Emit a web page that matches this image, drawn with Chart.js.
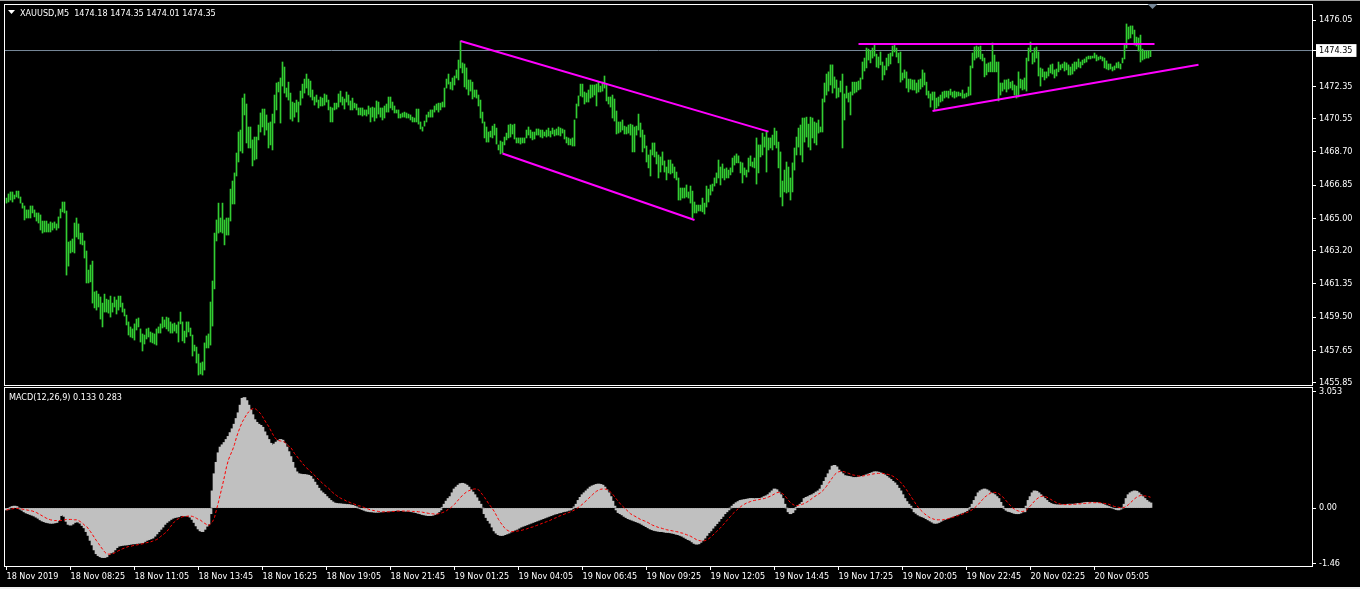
<!DOCTYPE html>
<html>
<head>
<meta charset="utf-8">
<title>XAUUSD,M5</title>
<script src="https://cdn.jsdelivr.net/npm/chart.js@4.4.1/dist/chart.umd.min.js"></script>
<style>
  html, body { margin:0; padding:0; background:#000; }
  body { width:1360px; height:589px; position:relative; overflow:hidden; }
  canvas { position:absolute; left:0; top:0; }
  #edgeTop { position:absolute; left:0; top:0; width:1360px; height:1px; background:#a0a0a0; }
  #edgeBottom { position:absolute; left:0; top:587px; width:1360px; height:2px; background:#f0f0f0; }
</style>
</head>
<body>
<canvas id="priceChart" width="1360" height="589"></canvas>
<canvas id="macdChart" width="1360" height="589"></canvas>
<div id="edgeTop"></div>
<div id="edgeBottom"></div>
<script>
// bar highs / lows, M5, oldest first
const highs = [
1466.13,1466.36,1466.47,1466.47,1466.30,1466.52,1466.52,1466.19,1465.85,1465.69,
1465.47,1465.47,1465.69,1465.69,1465.47,1465.30,1465.30,1465.19,1464.85,1464.85,
1464.85,1464.69,1464.80,1464.74,1464.80,1464.69,1465.08,1465.52,1465.91,1465.91,
1465.41,1463.68,1463.74,1463.85,1464.74,1465.02,1464.69,1464.18,1464.18,1463.74,
1463.18,1462.12,1462.40,1462.62,1460.90,1460.95,1460.78,1460.62,1460.28,1460.78,
1460.50,1460.45,1460.67,1460.28,1460.62,1460.45,1460.67,1460.67,1460.28,1459.95,
1459.61,1459.23,1458.95,1458.84,1459.12,1459.39,1459.45,1458.84,1458.56,1458.50,
1458.84,1458.89,1458.67,1458.61,1458.56,1458.84,1458.95,1459.12,1459.50,1459.34,
1459.50,1459.45,1459.23,1459.12,1459.17,1459.06,1459.23,1459.78,1459.23,1458.72,
1459.23,1459.23,1458.89,1458.50,1457.94,1457.83,1457.44,1456.94,1457.00,1458.06,
1458.45,1458.56,1460.34,1461.51,1464.18,1464.91,1465.85,1465.02,1465.85,1464.91,
1465.02,1465.02,1466.63,1467.08,1467.53,1468.64,1469.81,1469.92,1471.70,1471.93,
1471.37,1470.09,1470.09,1469.37,1469.53,1469.53,1470.20,1470.87,1471.09,1471.09,
1470.76,1470.31,1470.37,1470.81,1471.87,1472.54,1472.59,1472.82,1473.71,1473.43,
1472.26,1472.59,1471.98,1471.48,1471.42,1471.59,1471.48,1472.09,1472.48,1472.76,
1473.04,1472.76,1472.65,1472.15,1471.76,1471.87,1471.59,1471.76,1471.70,1471.93,
1471.87,1471.59,1471.20,1471.15,1471.42,1471.42,1471.93,1472.09,1471.76,1471.65,
1472.04,1471.87,1471.54,1471.70,1471.42,1471.37,1471.15,1471.15,1471.15,1471.04,
1471.04,1471.26,1471.15,1471.20,1471.15,1471.54,1471.48,1471.15,1471.15,1471.26,
1471.37,1471.76,1471.76,1471.48,1471.26,1471.04,1471.04,1470.81,1470.87,1470.92,
1470.87,1470.81,1470.76,1470.64,1470.59,1471.09,1471.09,1470.37,1470.09,1470.42,
1470.76,1470.92,1471.04,1471.04,1471.26,1471.37,1471.42,1471.42,1471.48,1472.26,
1472.76,1473.04,1472.59,1472.82,1472.93,1473.27,1473.82,1474.88,1473.66,1473.60,
1473.38,1472.71,1472.71,1472.59,1472.15,1472.15,1471.87,1471.59,1470.92,1470.37,
1470.09,1469.81,1469.86,1470.14,1470.25,1470.03,1469.09,1469.31,1469.25,1469.53,
1469.75,1470.20,1470.25,1470.20,1470.25,1469.48,1469.48,1469.48,1469.48,1469.48,
1469.92,1470.09,1469.92,1469.81,1469.81,1469.98,1469.98,1469.92,1469.92,1469.81,
1469.92,1470.03,1469.86,1470.03,1469.92,1469.98,1470.09,1470.03,1469.98,1469.92,
1469.53,1469.48,1469.42,1469.48,1470.48,1471.37,1471.82,1472.48,1472.48,1472.04,
1471.98,1472.15,1472.43,1472.43,1472.43,1472.48,1472.59,1472.37,1472.59,1472.93,
1472.43,1471.76,1471.76,1471.87,1471.65,1470.98,1470.37,1470.37,1470.48,1470.14,
1470.09,1470.20,1470.25,1470.20,1470.09,1470.14,1470.81,1470.31,1469.92,1469.64,
1469.03,1468.53,1468.81,1469.20,1469.20,1468.70,1468.53,1468.42,1468.70,1468.20,
1467.86,1468.25,1468.25,1468.03,1467.86,1467.58,1467.25,1466.69,1466.69,1466.69,
1466.86,1466.47,1466.80,1466.52,1465.91,1465.74,1465.74,1465.74,1466.13,1465.85,
1466.80,1466.63,1466.86,1466.91,1467.25,1467.53,1468.25,1467.86,1468.03,1467.75,
1467.81,1467.69,1467.81,1468.36,1468.48,1468.59,1468.48,1468.14,1468.09,1467.81,
1467.69,1468.36,1468.48,1468.14,1468.36,1469.48,1469.09,1469.09,1469.75,1469.53,
1469.81,1469.48,1469.48,1469.64,1470.03,1469.86,1469.25,1468.70,1467.08,1467.69,
1468.14,1467.86,1467.25,1468.09,1468.92,1469.53,1470.03,1470.20,1470.59,1470.59,
1470.64,1470.25,1470.64,1470.59,1470.37,1470.31,1470.48,1470.09,1471.65,1472.54,
1473.04,1473.16,1473.55,1473.55,1472.88,1472.71,1472.26,1472.65,1473.04,1471.93,
1472.37,1471.98,1472.04,1472.59,1472.59,1472.59,1472.65,1472.82,1473.71,1473.93,
1474.49,1474.43,1474.32,1474.49,1474.71,1474.15,1473.99,1474.27,1473.71,1473.49,
1473.93,1474.15,1474.21,1474.60,1474.71,1474.49,1474.21,1474.27,1473.10,1473.27,
1473.16,1472.76,1472.76,1472.71,1472.71,1472.54,1472.71,1472.76,1473.27,1473.10,
1472.59,1472.09,1471.93,1472.04,1472.04,1471.70,1471.76,1471.87,1472.04,1472.09,
1472.09,1472.09,1472.20,1472.04,1472.09,1472.04,1472.04,1471.98,1472.15,1471.93,
1471.98,1472.32,1473.49,1474.21,1474.55,1474.60,1474.55,1474.60,1474.15,1473.93,
1473.60,1473.66,1473.71,1474.77,1474.10,1473.71,1473.71,1472.54,1472.54,1472.71,
1472.71,1472.76,1472.59,1472.65,1472.43,1472.37,1473.16,1472.76,1472.71,1472.82,
1473.93,1474.49,1474.82,1474.21,1474.49,1474.55,1474.27,1473.38,1473.32,1473.16,
1473.16,1473.38,1473.55,1473.60,1473.27,1473.32,1473.71,1473.55,1473.60,1473.71,
1473.66,1473.55,1473.43,1473.60,1473.71,1473.71,1473.88,1473.71,1473.82,1473.88,
1473.99,1474.04,1474.04,1474.04,1474.21,1474.10,1473.99,1474.04,1473.99,1473.93,
1473.77,1473.60,1473.60,1473.43,1473.49,1473.66,1473.71,1473.60,1473.93,1474.66,
1475.83,1475.66,1475.72,1475.72,1475.49,1475.10,1475.05,1475.21,1474.43,1474.32,
1474.32,1474.32,1474.35
];
const lows = [
1465.85,1465.91,1466.02,1465.91,1466.08,1466.19,1466.13,1465.85,1465.57,1464.91,
1465.02,1465.02,1465.02,1465.30,1465.08,1464.85,1464.74,1464.35,1464.18,1464.24,
1464.24,1464.24,1464.24,1464.35,1464.46,1464.35,1464.46,1465.02,1465.36,1465.30,
1461.84,1462.34,1463.07,1463.13,1463.07,1463.96,1463.85,1463.57,1463.52,1462.79,
1461.40,1461.40,1461.46,1460.28,1460.01,1459.89,1460.06,1459.39,1458.95,1459.78,
1459.78,1459.72,1459.50,1459.78,1460.06,1459.67,1459.89,1460.06,1459.78,1459.56,
1459.06,1458.50,1458.39,1458.34,1458.22,1458.78,1458.95,1458.11,1457.61,1458.00,
1458.28,1458.39,1458.11,1458.06,1458.00,1457.94,1458.61,1458.61,1458.89,1458.95,
1458.84,1458.72,1458.61,1458.61,1458.72,1458.61,1458.11,1459.12,1458.17,1458.06,
1458.39,1458.67,1458.45,1457.33,1457.61,1456.94,1456.27,1456.33,1456.27,1456.55,
1457.78,1457.78,1457.94,1459.00,1461.07,1463.74,1464.18,1464.24,1464.18,1463.52,
1464.07,1464.07,1464.85,1465.80,1465.80,1467.36,1468.14,1468.75,1468.64,1470.76,
1469.20,1468.92,1468.92,1467.92,1468.25,1468.31,1469.37,1469.81,1470.09,1469.64,
1469.92,1468.92,1469.09,1468.81,1470.31,1471.04,1472.04,1470.31,1472.37,1471.98,
1471.76,1471.59,1470.53,1470.42,1470.64,1470.92,1470.37,1471.31,1471.70,1471.98,
1472.26,1471.87,1471.76,1471.59,1471.31,1471.48,1471.15,1471.26,1471.26,1471.31,
1471.48,1471.04,1470.37,1470.37,1471.04,1471.09,1471.20,1471.48,1471.31,1471.09,
1471.48,1471.31,1471.04,1471.04,1471.15,1471.04,1470.76,1470.76,1470.70,1470.76,
1470.70,1470.81,1470.37,1470.64,1470.42,1470.59,1470.81,1470.64,1470.48,1470.59,
1470.92,1470.92,1471.15,1471.04,1470.87,1470.87,1470.59,1470.59,1470.64,1470.64,
1470.59,1470.59,1470.48,1470.37,1470.37,1470.37,1470.25,1469.98,1469.86,1470.14,
1470.37,1470.64,1470.64,1470.64,1470.92,1471.04,1470.92,1471.04,1471.20,1471.20,
1472.26,1472.48,1472.20,1472.15,1472.43,1472.82,1472.71,1473.38,1473.10,1472.32,
1472.20,1471.87,1472.09,1471.65,1471.76,1471.70,1471.26,1470.59,1470.31,1469.48,
1469.25,1469.25,1469.53,1469.48,1469.64,1469.14,1468.81,1468.59,1468.64,1469.09,
1469.37,1469.48,1469.53,1469.70,1469.42,1469.20,1469.20,1469.14,1469.20,1469.20,
1469.48,1469.64,1469.48,1469.37,1469.42,1469.64,1469.64,1469.53,1469.48,1469.59,
1469.53,1469.59,1469.53,1469.70,1469.59,1469.64,1469.64,1469.59,1469.75,1469.42,
1469.20,1469.09,1469.09,1469.03,1469.03,1470.59,1471.26,1471.82,1471.76,1471.37,
1471.48,1471.48,1471.70,1471.76,1471.87,1471.26,1472.04,1472.04,1472.09,1472.26,
1471.54,1471.37,1471.20,1470.59,1470.42,1469.70,1469.75,1469.81,1469.92,1469.70,
1469.70,1469.75,1469.64,1468.70,1468.70,1469.64,1469.92,1469.53,1468.70,1468.92,
1468.14,1467.81,1467.36,1468.53,1468.42,1468.03,1467.25,1467.58,1467.97,1467.58,
1467.14,1467.53,1467.47,1467.53,1467.25,1467.14,1466.02,1466.02,1466.13,1466.13,
1466.19,1466.13,1465.85,1465.02,1465.30,1465.30,1465.41,1465.41,1465.36,1465.24,
1465.63,1465.91,1466.30,1466.52,1466.80,1466.97,1467.25,1466.86,1467.25,1467.14,
1467.25,1467.25,1467.42,1467.58,1467.97,1468.09,1468.09,1467.53,1466.97,1467.42,
1467.30,1467.58,1467.92,1467.86,1467.81,1466.91,1467.53,1468.42,1468.53,1468.97,
1467.58,1468.81,1468.92,1468.81,1469.09,1468.92,1467.81,1466.19,1465.69,1466.47,
1466.41,1466.47,1466.02,1466.47,1467.69,1468.53,1468.97,1468.53,1468.14,1469.25,
1469.53,1468.97,1468.81,1469.48,1469.20,1469.09,1469.75,1469.81,1469.81,1471.48,
1471.87,1472.09,1472.43,1471.98,1472.26,1471.70,1471.76,1472.04,1468.92,1470.48,
1471.70,1471.48,1470.76,1471.87,1471.98,1472.04,1472.15,1472.20,1472.76,1473.21,
1473.38,1473.82,1473.66,1473.93,1474.04,1473.43,1473.38,1473.55,1472.71,1472.99,
1473.27,1473.49,1473.60,1474.04,1474.27,1473.99,1473.66,1472.59,1472.71,1472.82,
1472.26,1472.04,1472.20,1472.15,1472.15,1471.98,1472.04,1472.20,1472.32,1472.43,
1471.87,1471.70,1471.20,1471.59,1471.04,1471.15,1471.26,1471.48,1471.54,1471.70,
1471.76,1471.70,1471.87,1471.76,1471.70,1471.76,1471.82,1471.82,1471.70,1471.70,
1471.76,1471.82,1471.87,1473.38,1473.82,1473.93,1473.99,1473.88,1473.77,1472.88,
1472.99,1473.16,1473.16,1473.16,1473.16,1473.16,1471.54,1471.87,1472.09,1472.20,
1472.04,1472.20,1472.26,1472.15,1471.87,1471.70,1471.76,1472.26,1472.15,1472.20,
1472.09,1473.77,1474.27,1473.60,1473.71,1473.93,1472.93,1472.37,1472.88,1472.71,
1472.82,1472.93,1473.10,1473.04,1472.82,1472.93,1473.16,1473.27,1473.38,1473.21,
1473.27,1472.99,1472.99,1473.04,1473.21,1473.32,1473.43,1473.38,1473.55,1473.66,
1473.71,1473.88,1473.88,1473.93,1473.93,1473.77,1473.82,1473.88,1473.77,1473.38,
1473.32,1473.27,1473.32,1473.21,1473.27,1473.38,1473.38,1473.32,1473.66,1473.88,
1474.49,1474.99,1475.05,1475.27,1474.66,1474.60,1474.32,1473.71,1473.82,1473.88,
1473.93,1473.93,1474.01
];
// MACD(12,26,9): main histogram and signal
const macdMain = [
-0.05,-0.03,0.02,0.04,0.05,0.04,0.00,-0.03,-0.06,-0.10,
-0.13,-0.15,-0.17,-0.19,-0.21,-0.24,-0.27,-0.31,-0.34,-0.36,
-0.38,-0.39,-0.40,-0.40,-0.39,-0.38,-0.33,-0.20,-0.18,-0.22,
-0.35,-0.43,-0.45,-0.42,-0.38,-0.36,-0.37,-0.40,-0.46,-0.52,
-0.62,-0.72,-0.85,-0.97,-1.10,-1.20,-1.25,-1.28,-1.30,-1.30,
-1.28,-1.22,-1.18,-1.16,-1.10,-1.04,-1.00,-0.99,-0.98,-0.97,
-0.97,-0.96,-0.95,-0.94,-0.94,-0.93,-0.92,-0.92,-0.91,-0.88,
-0.85,-0.83,-0.81,-0.79,-0.74,-0.68,-0.62,-0.56,-0.50,-0.43,
-0.38,-0.34,-0.30,-0.27,-0.25,-0.24,-0.23,-0.20,-0.20,-0.21,
-0.20,-0.21,-0.24,-0.30,-0.38,-0.47,-0.55,-0.60,-0.62,-0.56,
-0.48,-0.42,-0.15,0.45,0.90,1.20,1.45,1.60,1.66,1.72,
1.80,1.88,1.98,2.08,2.20,2.35,2.50,2.70,2.88,2.90,
2.82,2.70,2.58,2.45,2.32,2.25,2.20,2.17,2.12,2.00,
1.90,1.80,1.70,1.65,1.68,1.73,1.77,1.80,1.78,1.70,
1.60,1.48,1.35,1.20,1.05,0.95,0.90,0.89,0.88,0.88,
0.87,0.86,0.83,0.76,0.68,0.60,0.52,0.45,0.40,0.36,
0.30,0.25,0.20,0.16,0.13,0.12,0.11,0.11,0.10,0.10,
0.09,0.09,0.08,0.07,0.05,0.03,0.00,-0.02,-0.04,-0.06,
-0.08,-0.09,-0.10,-0.10,-0.11,-0.11,-0.11,-0.10,-0.10,-0.09,
-0.09,-0.08,-0.08,-0.07,-0.07,-0.06,-0.06,
-0.07,-0.07,-0.08,-0.08,-0.08,-0.09,-0.10,-0.11,-0.12,-0.14,
-0.15,-0.17,-0.18,-0.19,-0.20,-0.20,-0.19,-0.17,-0.15,-0.10,
-0.05,0.02,0.10,0.18,0.25,0.30,0.40,0.50,0.55,0.60,
0.64,0.65,0.63,0.60,0.55,0.48,0.42,0.35,0.27,0.18,
0.10,0.00,-0.15,-0.25,-0.33,-0.40,-0.50,-0.60,-0.66,-0.70,
-0.72,-0.72,-0.70,-0.68,-0.66,-0.63,-0.60,-0.58,-0.56,-0.53,
-0.50,-0.48,-0.46,-0.44,-0.42,-0.40,-0.38,-0.36,-0.34,-0.32,
-0.30,-0.28,-0.26,-0.24,-0.22,-0.20,-0.18,-0.16,-0.15,-0.13,
-0.12,-0.10,-0.09,-0.08,-0.06,-0.05,-0.02,0.03,0.10,0.20,
0.28,0.35,0.40,0.45,0.50,0.55,0.58,0.60,0.62,0.63,
0.62,0.60,0.55,0.48,0.40,0.30,0.18,0.05,-0.05,-0.12,
-0.15,-0.18,-0.22,-0.25,-0.28,-0.30,-0.32,-0.34,-0.36,-0.38,
-0.40,-0.43,-0.46,-0.49,-0.52,-0.55,-0.57,-0.59,-0.60,-0.61,
-0.62,-0.62,-0.63,-0.64,-0.64,-0.65,-0.66,-0.67,-0.69,-0.70,
-0.72,-0.74,-0.77,-0.80,-0.83,-0.85,-0.89,-0.93,-0.95,-0.94,
-0.90,-0.85,-0.79,-0.72,-0.65,-0.60,-0.53,-0.47,-0.41,-0.35,
-0.28,-0.22,-0.15,-0.10,-0.05,0.00,0.05,0.10,0.14,0.17,
0.20,0.21,0.22,0.23,0.24,0.25,0.25,0.24,0.25,0.25,
0.25,0.27,0.30,0.32,0.35,0.40,0.45,0.50,0.48,0.42,
0.35,0.25,0.10,0.00,-0.10,-0.15,-0.12,-0.05,0.02,0.07,
0.10,0.15,0.25,0.28,0.30,0.33,0.35,0.38,0.42,0.45,
0.50,0.60,0.70,0.80,0.90,1.00,1.10,1.12,1.08,1.00,
0.95,0.90,0.85,0.84,0.83,0.82,0.80,0.80,0.80,0.81,
0.82,0.83,0.85,0.87,0.89,0.91,0.93,0.95,0.95,0.94,
0.92,0.90,0.87,0.83,0.79,0.75,0.70,0.66,0.60,0.52,
0.45,0.35,0.25,0.17,0.10,0.05,-0.02,-0.10,-0.14,-0.18,
-0.21,-0.23,-0.25,-0.28,-0.31,-0.34,-0.37,-0.40,-0.40,-0.38,
-0.35,-0.32,-0.30,-0.28,-0.26,-0.24,-0.22,-0.20,-0.18,-0.16,
-0.14,-0.12,-0.10,-0.07,-0.03,0.02,0.10,0.20,0.30,0.40,
0.45,0.48,0.50,0.48,0.45,0.40,0.38,0.35,0.30,0.25,
0.15,0.05,-0.02,-0.06,-0.09,-0.10,-0.12,-0.14,-0.15,-0.15,
-0.13,-0.10,-0.10,0.05,0.20,0.30,0.40,0.45,0.44,0.40,
0.35,0.30,0.25,0.20,0.15,0.12,0.10,0.09,0.08,0.08,
0.08,0.08,0.09,0.09,0.10,0.10,0.10,0.10,0.11,0.12,
0.12,0.13,0.14,0.15,0.15,0.15,0.15,0.15,0.14,0.13,
0.12,0.10,0.08,0.06,0.04,0.02,0.00,-0.02,-0.04,-0.05,
-0.03,0.00,0.10,0.25,0.35,0.40,0.43,0.45,0.44,0.40,
0.35,0.30,0.25,0.20,0.16,0.133
];
const macdSignal = [
-0.05,-0.04,-0.03,-0.02,-0.01,-0.01,-0.01,-0.02,-0.03,-0.04,
-0.05,-0.06,-0.07,-0.08,-0.10,-0.12,-0.15,-0.18,-0.21,-0.24,
-0.27,-0.29,-0.31,-0.32,-0.33,-0.33,-0.33,-0.33,-0.32,-0.31,
-0.30,-0.30,-0.30,-0.30,-0.31,-0.31,-0.33,-0.36,-0.40,-0.45,
-0.48,-0.55,-0.62,-0.70,-0.78,-0.86,-0.93,-1.01,-1.08,-1.15,
-1.20,-1.21,-1.21,-1.20,-1.18,-1.15,-1.12,-1.10,-1.07,-1.05,
-1.03,-1.01,-1.01,-0.99,-0.98,-0.97,-0.96,-0.95,-0.94,-0.93,
-0.91,-0.90,-0.89,-0.87,-0.85,-0.83,-0.80,-0.75,-0.71,-0.67,
-0.63,-0.56,-0.49,-0.42,-0.36,-0.31,-0.28,-0.25,-0.23,-0.22,
-0.22,-0.21,-0.21,-0.22,-0.24,-0.27,-0.30,-0.32,-0.36,-0.40,
-0.43,-0.46,-0.42,-0.36,-0.25,-0.04,0.16,0.38,0.60,0.83,
1.08,1.27,1.40,1.52,1.67,1.86,2.01,2.15,2.27,2.36,
2.45,2.52,2.57,2.61,2.62,2.58,2.53,2.48,2.40,2.31,
2.22,2.15,2.05,1.95,1.86,1.80,1.77,1.76,1.75,1.73,
1.68,1.63,1.60,1.52,1.43,1.37,1.30,1.24,1.17,1.11,
1.06,1.00,0.96,0.91,0.86,0.80,0.75,0.70,0.65,0.60,
0.56,0.52,0.47,0.41,0.37,0.33,0.29,0.26,0.23,0.21,
0.18,0.16,0.14,0.12,0.10,0.08,0.06,0.05,0.03,0.01,
-0.01,-0.03,-0.05,-0.06,-0.07,-0.08,-0.09,-0.10,-0.10,-0.10,
-0.10,-0.10,-0.10,-0.09,-0.09,-0.08,-0.08,
-0.08,-0.08,-0.08,-0.08,-0.08,-0.08,-0.09,-0.09,-0.09,-0.10,
-0.10,-0.11,-0.12,-0.13,-0.14,-0.15,-0.15,-0.16,-0.16,-0.15,
-0.14,-0.12,-0.10,-0.07,-0.03,0.00,0.05,0.10,0.15,0.22,
0.28,0.33,0.38,0.42,0.45,0.47,0.49,0.50,0.50,0.48,
0.42,0.35,0.28,0.20,0.12,0.05,-0.02,-0.10,-0.20,-0.30,
-0.38,-0.45,-0.52,-0.57,-0.60,-0.62,-0.62,-0.62,-0.61,-0.60,
-0.59,-0.58,-0.56,-0.55,-0.53,-0.51,-0.50,-0.48,-0.46,-0.44,
-0.42,-0.40,-0.38,-0.36,-0.34,-0.32,-0.29,-0.27,-0.25,-0.22,
-0.20,-0.18,-0.16,-0.14,-0.12,-0.10,-0.08,-0.05,-0.02,0.02,
0.06,0.10,0.15,0.20,0.25,0.30,0.35,0.40,0.44,0.47,
0.49,0.50,0.50,0.49,0.46,0.42,0.37,0.30,0.23,0.17,
0.10,0.05,0.00,-0.05,-0.10,-0.15,-0.18,-0.21,-0.24,-0.27,
-0.30,-0.32,-0.34,-0.36,-0.39,-0.42,-0.45,-0.47,-0.49,-0.51,
-0.52,-0.54,-0.55,-0.57,-0.58,-0.59,-0.60,-0.61,-0.62,-0.63,
-0.65,-0.66,-0.68,-0.70,-0.72,-0.74,-0.77,-0.80,-0.83,-0.85,
-0.86,-0.87,-0.86,-0.84,-0.81,-0.77,-0.72,-0.67,-0.62,-0.57,
-0.52,-0.46,-0.40,-0.34,-0.28,-0.22,-0.16,-0.11,-0.06,-0.01,
0.03,0.07,0.10,0.13,0.15,0.17,0.19,0.20,0.21,0.22,
0.23,0.24,0.25,0.27,0.29,0.31,0.34,0.37,0.40,0.41,
0.40,0.38,0.33,0.27,0.20,0.14,0.10,0.07,0.06,0.07,
0.08,0.10,0.12,0.15,0.18,0.22,0.26,0.30,0.33,0.37,
0.40,0.45,0.50,0.57,0.65,0.72,0.80,0.87,0.92,0.95,
0.96,0.96,0.95,0.93,0.91,0.89,0.87,0.86,0.85,0.84,
0.84,0.84,0.85,0.86,0.87,0.88,0.89,0.90,0.91,0.91,
0.91,0.91,0.90,0.89,0.88,0.86,0.84,0.81,0.77,0.73,
0.68,0.62,0.55,0.48,0.40,0.32,0.24,0.16,0.08,0.01,
-0.05,-0.10,-0.15,-0.19,-0.23,-0.26,-0.28,-0.30,-0.31,-0.31,
-0.31,-0.31,-0.30,-0.29,-0.28,-0.26,-0.25,-0.23,-0.21,-0.20,
-0.18,-0.16,-0.14,-0.12,-0.10,-0.07,-0.04,0.00,0.05,0.10,
0.16,0.22,0.28,0.32,0.36,0.39,0.41,0.41,0.40,0.38,
0.34,0.30,0.24,0.18,0.12,0.06,0.01,-0.03,-0.06,-0.08,
-0.09,-0.09,-0.08,-0.05,0.00,0.06,0.12,0.18,0.23,0.27,
0.30,0.31,0.31,0.29,0.26,0.23,0.20,0.17,0.14,0.12,
0.10,0.09,0.09,0.09,0.09,0.09,0.09,0.10,0.10,0.11,
0.11,0.12,0.12,0.13,0.13,0.14,0.14,0.14,0.14,0.14,
0.14,0.13,0.12,0.11,0.10,0.08,0.06,0.04,0.03,0.02,
0.01,0.01,0.02,0.05,0.09,0.14,0.19,0.24,0.28,0.31,
0.33,0.33,0.32,0.31,0.30,0.283
];

const headerQuote = [1474.18, 1474.35, 1474.01, 1474.35];
const lastPrice = 1474.35;
const priceTicks = [1476.05, 1474.35, 1472.35, 1470.55, 1468.70, 1466.85, 1465.00, 1463.20, 1461.35, 1459.50, 1457.65, 1455.85];
const macdTicks = [3.053, 0, -1.46];
const macdTickText = ['3.053', '0.00', '-1.46'];
const timeTickBars = [0, 32, 64, 96, 128, 160, 192, 224, 256, 288, 320, 352, 384, 416, 448, 480, 512, 544];
const timeLabels = ['18 Nov 2019', '18 Nov 08:25', '18 Nov 11:05', '18 Nov 13:45', '18 Nov 16:25', '18 Nov 19:05',
  '18 Nov 21:45', '19 Nov 01:25', '19 Nov 04:05', '19 Nov 06:45', '19 Nov 09:25', '19 Nov 12:05',
  '19 Nov 14:45', '19 Nov 17:25', '19 Nov 20:05', '19 Nov 22:45', '20 Nov 02:25', '20 Nov 05:05'];

// trend lines: [bar index, price]
const channelTop = [[227, 1474.88], [381, 1469.83]];
const channelBottom = [[248, 1468.61], [344, 1464.91]];
const resistance = [[426, 1474.72], [574, 1474.72]];
const support = [[463, 1470.98], [596, 1473.56]];

const X_MIN = -0.75, X_MAX = 652.75;
const WHITE = '#ffffff';

// pick a narrow sans that exists, sized so a price label is ~33px wide (like the terminal font)
function hasFont(name) {
  const c = document.createElement('canvas').getContext('2d');
  c.font = '40px monospace';
  const w0 = c.measureText('1476.05 XAUUSD Nov').width;
  c.font = '40px "' + name + '", monospace';
  return c.measureText('1476.05 XAUUSD Nov').width !== w0;
}
const family = ['Liberation Sans Narrow', 'DejaVu Sans Condensed', 'Liberation Sans'].find(hasFont) || 'Arial';
const FONT = '"' + family + '", sans-serif';
const fontSize = (() => {
  const c = document.createElement('canvas').getContext('2d');
  c.font = '100px ' + FONT;
  const s = 33 / c.measureText('1476.05').width * 100;
  return Math.min(11, Math.round(s * 2) / 2);
})();
Chart.defaults.font.family = FONT;
Chart.defaults.font.size = fontSize;
Chart.defaults.color = WHITE;

const pts = arr => arr.map(p => ({x: p[0], y: p[1]}));
const trend = arr => ({type: 'line', data: pts(arr), borderColor: '#ff00ff', borderWidth: 2,
  pointRadius: 0, tension: 0, order: 1});

// white box round each window
const frame = {
  id: 'frame',
  afterDraw(chart) {
    const a = chart.chartArea, ctx = chart.ctx;
    ctx.save();
    ctx.strokeStyle = WHITE;
    ctx.lineWidth = 1;
    ctx.strokeRect(a.left - 0.5, a.top - 0.5, a.right - a.left + 1, a.bottom - a.top + 1);
    ctx.restore();
  }
};

const priceTitle = {
  id: 'priceTitle',
  afterDraw(chart) {
    const ctx = chart.ctx;
    ctx.save();
    ctx.fillStyle = WHITE;
    ctx.beginPath();
    ctx.moveTo(8, 10); ctx.lineTo(15, 10); ctx.lineTo(11.5, 14);
    ctx.closePath(); ctx.fill();
    ctx.font = fontSize + 'px ' + FONT;
    ctx.fillText('XAUUSD,M5  ' + headerQuote.map(v => v.toFixed(2)).join(' '), 20, 16);
    // chart shift marker just past the last bar
    const sx = chart.scales.x.getPixelForValue(highs.length);
    ctx.fillStyle = '#778899';
    ctx.beginPath();
    ctx.moveTo(sx - 5, 4); ctx.lineTo(sx + 5, 4); ctx.lineTo(sx, 9);
    ctx.closePath(); ctx.fill();
    ctx.restore();
  }
};

const macdTitle = {
  id: 'macdTitle',
  afterDraw(chart) {
    const ctx = chart.ctx, n = macdMain.length - 1;
    ctx.save();
    ctx.fillStyle = WHITE;
    ctx.font = fontSize + 'px ' + FONT;
    ctx.fillText('MACD(12,26,9) ' + macdMain[n].toFixed(3) + ' ' + macdSignal[n].toFixed(3), 9, 400);
    ctx.restore();
  }
};

const tickGrid = {drawOnChartArea: false, drawTicks: true, tickLength: 4, color: WHITE, offset: false};

new Chart(document.getElementById('priceChart'), {
  type: 'bar',
  data: {
    datasets: [
      trend(channelTop), trend(channelBottom), trend(resistance), trend(support),
      {
        data: highs.map((h, i) => ({x: i, y: [lows[i], h]})),
        backgroundColor: '#32cd32', barThickness: 1, borderWidth: 0, order: 2
      },
      {
        type: 'line', data: [{x: X_MIN, y: lastPrice}, {x: X_MAX, y: lastPrice}],
        borderColor: '#778899', borderWidth: 1, pointRadius: 0, order: 3
      }
    ]
  },
  options: {
    responsive: false, animation: false, events: [],
    layout: {padding: {top: 5, left: 5, right: 0, bottom: 204}},
    plugins: {legend: {display: false}, tooltip: {enabled: false}},
    scales: {
      x: {type: 'linear', display: false, min: X_MIN, max: X_MAX, offset: false},
      y: {
        position: 'right', min: 1455.716, max: 1476.886,
        afterBuildTicks: s => { s.ticks = priceTicks.map(v => ({value: v})); },
        afterFit: s => { s.width = 48; s.paddingTop = 0; s.paddingBottom = 0; },
        grid: tickGrid,
        border: {display: false},
        ticks: {
          padding: 3,
          color: c => (c.tick && c.tick.value === lastPrice) ? '#000000' : WHITE,
          showLabelBackdrop: c => !!(c.tick && c.tick.value === lastPrice),
          backdropColor: WHITE,
          backdropPadding: {left: 3, right: 4, top: 1, bottom: 1},
          callback: v => Number(v).toFixed(2)
        }
      }
    }
  },
  plugins: [frame, priceTitle]
});

new Chart(document.getElementById('macdChart'), {
  type: 'bar',
  data: {
    datasets: [
      {
        type: 'line', data: macdSignal.map((v, i) => ({x: i, y: v})),
        borderColor: '#ff0000', borderWidth: 1, borderDash: [3, 2], pointRadius: 0, tension: 0, order: 1
      },
      {
        data: macdMain.map((v, i) => ({x: i, y: v})),
        backgroundColor: '#c0c0c0', barThickness: 3, borderWidth: 0, order: 2
      }
    ]
  },
  options: {
    responsive: false, animation: false, events: [],
    layout: {padding: {top: 388, left: 5, right: 0, bottom: 0}},
    plugins: {legend: {display: false}, tooltip: {enabled: false}},
    scales: {
      x: {
        type: 'linear', min: X_MIN, max: X_MAX, offset: false,
        afterBuildTicks: s => { s.ticks = timeTickBars.map(v => ({value: v})); },
        afterFit: s => { s.height = 23; s.paddingLeft = 0; s.paddingRight = 0; },
        grid: tickGrid,
        border: {display: false},
        ticks: {align: 'start', maxRotation: 0, minRotation: 0, autoSkip: false, padding: 1,
          callback: (v, i) => timeLabels[i]}
      },
      y: {
        position: 'right', min: -1.522, max: 3.150,
        afterBuildTicks: s => { s.ticks = macdTicks.map(v => ({value: v})); },
        afterFit: s => { s.width = 48; s.paddingTop = 0; s.paddingBottom = 0; },
        grid: tickGrid,
        border: {display: false},
        ticks: {padding: 3, callback: (v, i) => macdTickText[i]}
      }
    }
  },
  plugins: [frame, macdTitle]
});
</script>
</body>
</html>
